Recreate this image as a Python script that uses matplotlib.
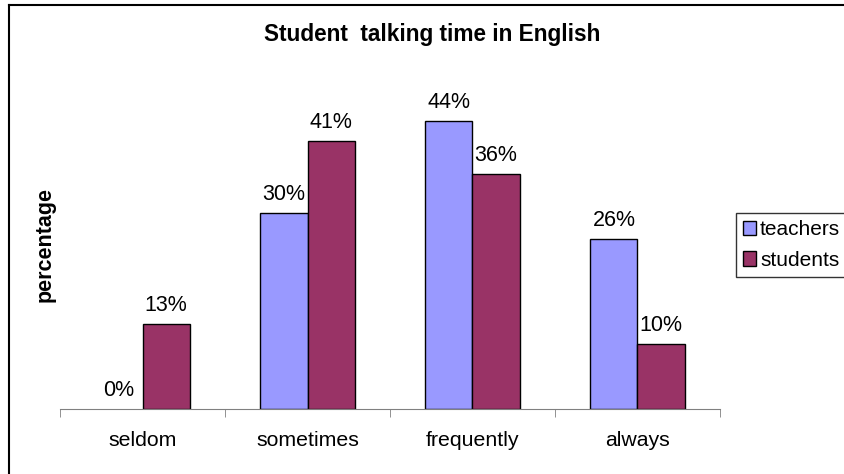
import numpy as np
import matplotlib.pyplot as plt
from matplotlib.lines import Line2D
from matplotlib.patches import Patch

#%% Data
categories = ['seldom', 'sometimes', 'frequently', 'always']
teachers = [0, 30, 44, 26]
students = [13, 41, 36, 10]

TEACH_COLOR = '#9999FF'
STUD_COLOR = '#993366'

#%% Figure
plt.rcParams['font.family'] = ['Liberation Sans', 'DejaVu Sans']
fig = plt.figure(figsize=(8.44, 4.74), dpi=100)
ax = fig.add_axes([60/844, 65/474, 660/844, 327/474])

x = np.arange(len(categories))
w = 0.285
b1 = ax.bar(x - w/2, teachers, w, color=TEACH_COLOR, edgecolor='black', linewidth=1)
b2 = ax.bar(x + w/2, students, w, color=STUD_COLOR, edgecolor='black', linewidth=1)

# value labels above each bar; zero-height bars get no outline
for bars, vals in ((b1, teachers), (b2, students)):
    for r, v in zip(bars, vals):
        if v == 0:
            r.set_linewidth(0)
        ax.text(r.get_x() + r.get_width()/2, v + 1.2, f'{v}%',
                ha='center', va='bottom', fontsize=15.5)

ax.set_xlim(-0.5, len(categories) - 0.5)
ax.set_ylim(0, 50)
ax.set_yticks([])
for s in ('top', 'right', 'left'):
    ax.spines[s].set_visible(False)
ax.spines['bottom'].set_color('#808080')

# category labels in the middle, tick marks between groups
ax.set_xticks(x)
ax.set_xticklabels(categories, fontsize=15.3)
ax.tick_params(axis='x', length=0, pad=16)
ax.set_xticks(np.arange(-0.5, len(categories)), minor=True)
ax.tick_params(axis='x', which='minor', length=6, color='#808080')

fig.text(432/844, 1 - 35/474, 'Student  talking time in English',
         ha='center', va='center', fontsize=16.3, fontweight='bold')
fig.text(45/844, 1 - 245/474, 'percentage', rotation=90,
         ha='center', va='center', fontsize=15.5, fontweight='bold')

handles = [Patch(facecolor=TEACH_COLOR, edgecolor='black'),
           Patch(facecolor=STUD_COLOR, edgecolor='black')]
leg = fig.legend(handles, ['teachers', 'students'], loc='upper left',
                 bbox_to_anchor=(736/844, 1 - 213/474), fontsize=15,
                 frameon=True, fancybox=False, handlelength=0.6,
                 handleheight=0.7, handletextpad=0.2, borderpad=0.35,
                 labelspacing=0.55, borderaxespad=0)
leg.get_frame().set_edgecolor('black')
leg.get_frame().set_linewidth(1)

# chart frame (top and left edges)
fig.add_artist(Line2D([9/844, 1], [1 - 5/474, 1 - 5/474], color='black', lw=1.5))
fig.add_artist(Line2D([9/844, 9/844], [0, 1 - 5/474], color='black', lw=1.5))

fig.savefig('out.png', dpi=100)
